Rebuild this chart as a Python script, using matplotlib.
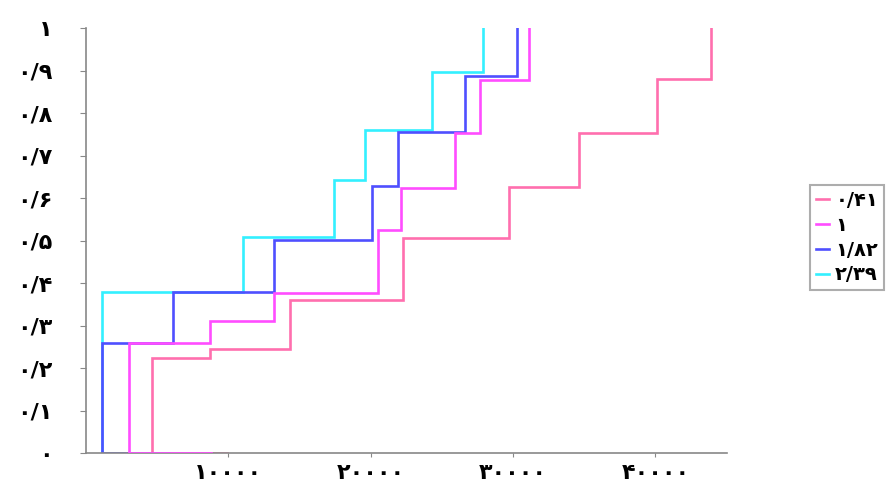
import matplotlib.pyplot as plt

plt.rcParams['font.family'] = ['DejaVu Sans']
plt.rcParams['font.weight'] = 'bold'

# series: x where each step jumps, level after the jump, end of the bottom tail
labels = ['۰/۴۱', '۱', '۱/۸۲', '۲/۳۹']
colors = ['#ff6fae', '#ff4dff', '#4f4fff', '#33f0ff']

pink_x = [4600, 8700, 14300, 22300, 29700, 34600, 40100, 43900]
pink_y = [0.224, 0.245, 0.36, 0.506, 0.626, 0.753, 0.88, 1.0]
pink_tail = 9900

magenta_x = [3000, 8700, 13200, 20500, 22100, 25900, 27700, 31100]
magenta_y = [0.26, 0.31, 0.376, 0.525, 0.624, 0.753, 0.878, 1.0]
magenta_tail = 8800

blue_x = [1100, 6100, 13200, 20100, 21900, 26600, 30300]
blue_y = [0.26, 0.379, 0.501, 0.628, 0.755, 0.887, 1.0]
blue_tail = 5800

cyan_x = [1150, 11000, 17400, 19600, 24300, 27900]
cyan_y = [0.379, 0.508, 0.642, 0.76, 0.896, 1.0]
cyan_tail = 1150

series = [(pink_x, pink_y, pink_tail), (magenta_x, magenta_y, magenta_tail),
          (blue_x, blue_y, blue_tail), (cyan_x, cyan_y, cyan_tail)]

y_ticks = [0, 0.1, 0.2, 0.3, 0.4, 0.5, 0.6, 0.7, 0.8, 0.9, 1.0]
y_labels = ['۰', '۰/۱', '۰/۲', '۰/۳', '۰/۴', '۰/۵', '۰/۶', '۰/۷', '۰/۸', '۰/۹', '۱']
x_ticks = [10000, 20000, 30000, 40000]
x_labels = ['۱۰۰۰۰', '۲۰۰۰۰', '۳۰۰۰۰', '۴۰۰۰۰']


def step_path(xs, ys, tail):
    px, py = [tail], [0]
    prev = 0
    for x, y in zip(xs, ys):
        px += [x, x]
        py += [prev, y]
        prev = y
    return px, py


fig = plt.figure(figsize=(8.96, 4.88), dpi=100)
ax = fig.add_axes([0.096, 0.0717, 0.715, 0.8709])

zorders = [2, 3, 2.5, 2.2]
for (xs, ys, tail), lab, col, z in zip(series, labels, colors, zorders):
    px, py = step_path(xs, ys, tail)
    ax.plot(px, py, color=col, lw=1.9, label=lab, zorder=z, solid_joinstyle='miter')

ax.set_xlim(0, 45000)
ax.set_ylim(0, 1)
ax.set_xticks(x_ticks)
ax.set_xticklabels(x_labels, fontsize=16, fontweight='bold')
ax.set_yticks(y_ticks)
ax.set_yticklabels(y_labels, fontsize=16, fontweight='bold')

for s in ['top', 'right']:
    ax.spines[s].set_visible(False)
for s in ['left', 'bottom']:
    ax.spines[s].set_color('#888888')
    ax.spines[s].set_linewidth(1.2)
ax.tick_params(axis='y', direction='out', length=4, color='#888888', pad=20)
ax.tick_params(axis='x', direction='out', length=3, color='#888888', pad=4)

leg = ax.legend(loc='upper left', bbox_to_anchor=(810 / 896, 1 - 185 / 488),
                bbox_transform=fig.transFigure, fontsize=14, handlelength=0.7,
                handletextpad=0.3, labelspacing=0.3, borderpad=0.3,
                frameon=True, fancybox=False, borderaxespad=0)
leg.get_frame().set_edgecolor('#999999')
leg.get_frame().set_linewidth(1.5)

fig.savefig('out.png', dpi=100)
